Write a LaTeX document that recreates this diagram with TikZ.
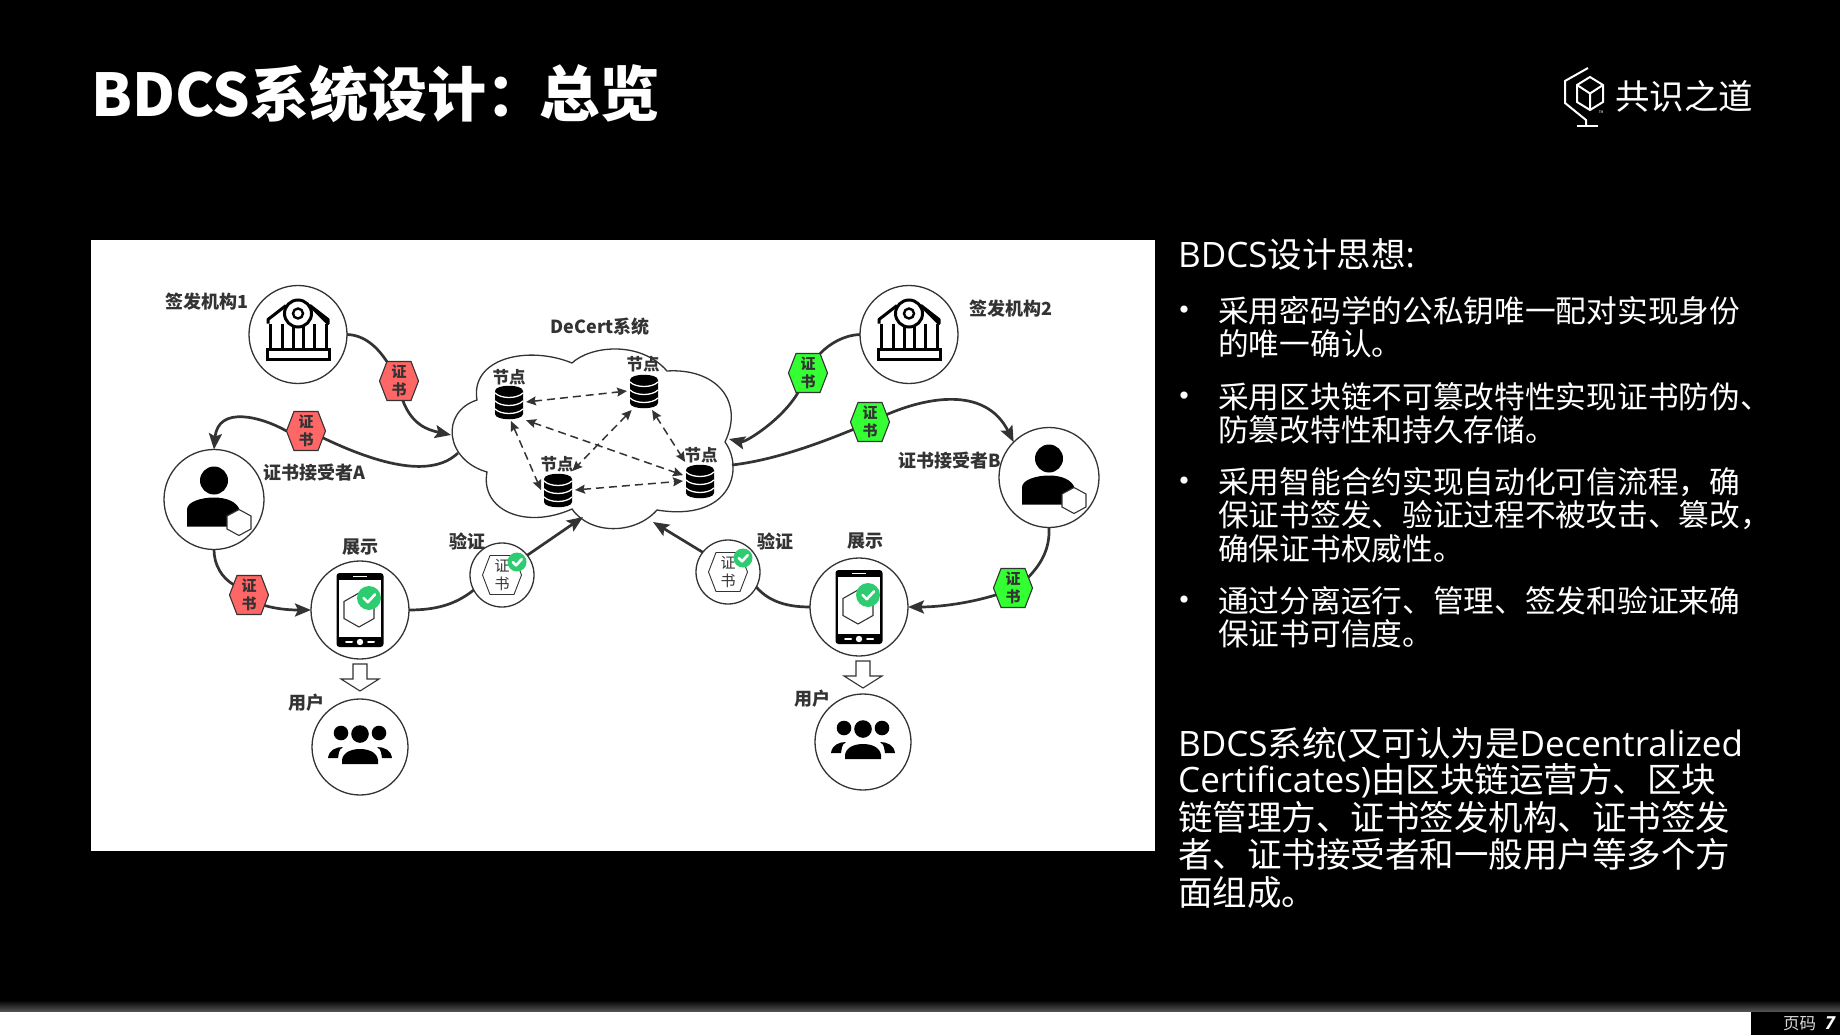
\documentclass[tikz,border=0pt]{standalone}
\usepackage{fontspec}
\setmainfont{Noto Sans CJK SC}
\newfontfamily\latinface{Open Sans}
\usetikzlibrary{arrows.meta,shapes.misc,shapes.geometric,shapes.symbols}
\definecolor{ink}{HTML}{333333}
\definecolor{certred}{HTML}{FF6666}
\definecolor{certgreen}{HTML}{33FF33}
\definecolor{okgreen}{HTML}{2ECC71}
\newcommand{\fs}[1]{\fontsize{#1}{#1}\selectfont}
\newcommand{\lat}[1]{{\latinface\fontsize{35}{35}\selectfont #1}}
\tikzset{
  roundbox/.style={circle,draw=ink,line width=1.3pt,fill=white,inner sep=0pt,outer sep=0pt,minimum size=#1},
  certhex/.style={signal,signal to=east and west,signal pointer angle=138,
     draw=ink,line width=1.1pt,fill=#1,inner sep=0pt,outer sep=0pt,minimum width=39pt,minimum height=39pt,
     align=center,text=ink,font=\fs{15}\bfseries},
  dbspot/.style={rectangle,inner sep=0pt,outer sep=0pt,minimum width=34pt,minimum height=38pt},
  flow/.style={draw=ink,line width=2.7pt},
  flowtip/.style={flow,-{Stealth[length=16pt,width=13pt,inset=3pt]}},
  peer/.style={draw=ink,line width=1.5pt,dash pattern=on 8pt off 5pt,
     {Stealth[length=10pt,width=9pt,inset=1.5pt]}-{Stealth[length=10pt,width=9pt,inset=1.5pt]}},
  caption/.style={text=ink,font=\fs{18}\bfseries,inner sep=0pt},
  bodytext/.style={text=white,anchor=base west,inner sep=0pt,font=\fs{30.7}},
  paratext/.style={text=white,anchor=base west,inner sep=0pt,font=\fs{34.5}},
  bankicon/.pic={
    \draw[black,line width=3pt,line join=round]
      (-30,-11) -- (-30,-15) -- (-12,-29) (12,-29) -- (30,-15) -- (30,-11) -- cycle;
    \draw[black,line width=3pt,fill=white] (-31,15) rectangle (31,25);
    \draw[black,line width=3pt]
      (-28,-11) -- (-28,15) (-16,-11) -- (-16,15) (-5,-11) -- (-5,15)
      (5,-11) -- (5,15) (16,-11) -- (16,15) (28,-11) -- (28,15);
    \draw[black,line width=3pt,fill=white] (0,-21) circle[radius=13.5];
    \draw[black,line width=2.4pt,fill=white] (0,-21) circle[radius=5];
  },
  personicon/.pic={
    \fill[black] (0,-19) circle[radius=14];
    \fill[black] (-27,27) -- (-27,10) .. controls (-27,2) and (-12,-2) .. (0,-2)
       .. controls (12,-2) and (24,2) .. (26,12) -- (26,27) -- cycle;
    \draw[ink,line width=1.1pt,fill=white] (25,10) -- (37,16.5) -- (37,29.5) -- (25,36) -- (13,29.5) -- (13,16.5) -- cycle;
  },
  okbadge/.pic={
    \fill[okgreen] (0,0) circle[radius=#1];
    \draw[white,line width=2.6pt,line cap=round,line join=round]
      (-0.45*#1,0) -- (-0.1*#1,0.35*#1) -- (0.5*#1,-0.3*#1);
  },
  phoneicon/.pic={
    \fill[black,rounded corners=3pt] (-23.5,-37) rectangle (23.5,37);
    \fill[white] (-21,-30) rectangle (21,27);
    \draw[white,line width=1.2pt] (-7,-33.5) -- (7,-33.5);
    \fill[white] (0,32) circle[radius=3.2];
    \draw[white,line width=2pt,line cap=round] (-14,32) -- (-8,32) (8,32) -- (14,32);
    \draw[ink,line width=1.1pt] (-1,-17) -- (14,-8.5) -- (14,8.5) -- (-1,17) -- (-16,8.5) -- (-16,-8.5) -- cycle;
    \pic at (9,-12) {okbadge=12};
  },
  usersicon/.pic={
    \fill[black] (-19,-14) circle[radius=7.3] (19,-14) circle[radius=7.3] (0,-13) circle[radius=8.8];
    \fill[black] (-32,11) .. controls (-31,3) and (-24,0) .. (-17,0) .. controls (-22,3) and (-21,7) .. (-22,11) -- cycle;
    \fill[black] (32,11) .. controls (31,3) and (24,0) .. (17,0) .. controls (22,3) and (21,7) .. (22,11) -- cycle;
    \fill[black] (-18,17) -- (-18,13) .. controls (-17,5) and (-8,2) .. (0,2) .. controls (8,2) and (17,5) .. (18,13) -- (18,17) -- cycle;
  },
  dbicon/.pic={
    \fill[black] (-14,-11) .. controls (-14,-18) and (14,-18) .. (14,-11) -- (14,12)
       .. controls (14,19) and (-14,19) .. (-14,12) -- cycle;
    \draw[white,line width=1.3pt]
      (-14,-9) .. controls (-8,-3) and (8,-3) .. (14,-9)
      (-14,-1) .. controls (-8,5) and (8,5) .. (14,-1)
      (-14,7) .. controls (-8,13) and (8,13) .. (14,7);
  },
  downblock/.pic={
    \draw[ink,line width=1.1pt,fill=white,line join=miter]
      (-7,0) -- (7,0) -- (7,15) -- (19,15) -- (0,27) -- (-19,15) -- (-7,15) -- cycle;
  },
}
\begin{document}
\begin{tikzpicture}[x=1pt,y=-1pt]
\useasboundingbox (0,0) rectangle (1840,1035);
\fill[black] (0,0) rectangle (1840,1035);

% slide frame
\shade[top color=black,bottom color=black!65!white] (0,1000) rectangle (1840,1012);
\fill[white] (0,1012) rectangle (1751,1035);
\fill[black] (1751,1012) rectangle (1840,1035);
\node[text=white!85!black,anchor=base west,inner sep=0pt,font=\fs{16.5}] (pageno) at (1783,1029) {页码};
\node[text=white,anchor=base west,inner sep=0pt,font=\latinface\fs{18}\bfseries\itshape] (pagenum) at (1825,1029) {7};

% title
\node[text=white,anchor=base west,inner sep=0pt,font=\fs{59}\bfseries] (title) at (91,117) {BDCS系统设计：\kern-6pt{\fs{60.5}总览}};

% logo
\begin{scope}[draw=white,line width=2pt,line join=miter]
  \draw (1590,77) -- (1603,85) -- (1603,102) -- (1590,110) -- (1577,102) -- (1577,85) -- cycle;
  \draw (1577,85) -- (1590,93.5) -- (1603,85) (1590,93.5) -- (1590,110);
  \draw (1588,68) -- (1565,81) -- (1565,103) -- (1586,120) -- (1586,126);
  \draw[line width=2.4pt] (1577,126) -- (1598,126);
\end{scope}
\node[text=white,inner sep=0pt,font=\fs{3.5}] (tm) at (1601,112) {TM};
\node[text=white,anchor=base west,inner sep=0pt,font=\fs{34.5}] (logotext) at (1615,110) {共识之道};

% panel
\fill[white] (91,240) rectangle (1155,851);

% cloud outline
\draw[ink,line width=1.3pt,fill=white]
  (572,363) .. controls (590,346) and (640,340) .. (667,371)
  .. controls (715,368) and (745,400) .. (725,442)
  .. controls (745,470) and (730,522) .. (657,510)
  .. controls (635,535) and (590,535) .. (572,509)
  .. controls (525,530) and (480,510) .. (487,472)
  .. controls (445,460) and (440,412) .. (477,400)
  .. controls (470,358) and (528,345) .. (572,363) -- cycle;
\coordinate (cloudW) at (451,435);
\coordinate (cloudSW) at (458,453);
\coordinate (cloudS1) at (583,517);
\coordinate (cloudS2) at (653,522);
\coordinate (cloudE) at (732,465);
\coordinate (cloudE2) at (729,439);

% ledger nodes
\node[dbspot] (db1) at (509,402) {};
\node[dbspot] (db2) at (644,391) {};
\node[dbspot] (db3) at (558,490) {};
\node[dbspot] (db4) at (700,481) {};
\pic at (db1) {dbicon};
\pic at (db2) {dbicon};
\pic at (db3) {dbicon};
\pic at (db4) {dbicon};
\node[caption,font=\fs{16.5}\bfseries] (lb1) at (509,377) {节点};
\node[caption,font=\fs{16.5}\bfseries] (lb2) at (643,364) {节点};
\node[caption,font=\fs{16.5}\bfseries] (lb3) at (557,464) {节点};
\node[caption,font=\fs{16.5}\bfseries] (lb4) at (701,455) {节点};
\draw[peer] (db1.east) -- (db2.west);
\draw[peer] (db1.-84) -- (db3.west);
\draw[peer] (db1.-47) -- (db4.161);
\draw[peer] (db2.237) -- (db3.53);
\draw[peer] (db2.-67) -- (db4.128);
\draw[peer] (db3.east) -- (db4.west);
\node[caption] (cloudlabel) at (600,327) {DeCert系统};

% round actors
\node[roundbox=98pt] (bank1) at (298,334.5) {};
\node[roundbox=98pt] (bank2) at (909,334.5) {};
\node[roundbox=100pt] (holderA) at (214,499.5) {};
\node[roundbox=100pt] (holderB) at (1049,477.5) {};
\node[roundbox=98pt] (phoneA) at (360,610) {};
\node[roundbox=98pt] (phoneB) at (859,607) {};
\node[roundbox=96pt] (usersA) at (360,747) {};
\node[roundbox=96pt] (usersB) at (863,742) {};
\node[roundbox=64pt] (verifyA) at (502,575) {};
\node[roundbox=64pt] (verifyB) at (728,572) {};
\pic at (bank1) {bankicon};
\pic at (bank2) {bankicon};
\pic at (holderA) {personicon};
\pic at (holderB) {personicon};
\pic at (phoneA) {phoneicon};
\pic at (phoneB) {phoneicon};
\pic at (usersA) {usersicon};
\pic at (usersB) {usersicon};

% certificates being verified
\node[certhex=white,line width=0.9pt,font=\fs{15}] (certA) at (502,575) {证\\[3pt]书};
\node[certhex=white,line width=0.9pt,font=\fs{15}] (certB) at (728,572) {证\\[3pt]书};
\pic at (517,562) {okbadge=9.5};
\pic at (743,558) {okbadge=9.5};

% certificates in transit
\node[certhex=certred] (hexR1) at (399,381) {证\\[3pt]书};
\node[certhex=certred] (hexR2) at (306,431) {证\\[3pt]书};
\node[certhex=certred] (hexR3) at (249,595) {证\\[3pt]书};
\node[certhex=certgreen] (hexG1) at (808,373) {证\\[3pt]书};
\node[certhex=certgreen] (hexG2) at (870,422) {证\\[3pt]书};
\node[certhex=certgreen] (hexG3) at (1013,588) {证\\[3pt]书};

% flows on the issuer A side
\draw[flow] (bank1.east) .. controls (365,335) and (378,348) .. (hexR1.122);
\draw[flowtip] (hexR1.-79) .. controls (412,425) and (428,430) .. (cloudW);
\draw[flow] (cloudSW) .. controls (435,475) and (390,470) .. (hexR2.-22);
\draw[flowtip] (hexR2.west) .. controls (262,417) and (218,405) .. (holderA.north);
\draw[flow] (holderA.south) .. controls (214,565) and (222,578) .. (hexR3.146);
\draw[flowtip] (hexR3.-34) .. controls (280,610) and (295,610) .. (phoneA.west);
\draw[flow] (phoneA.east) .. controls (435,610) and (455,605) .. (verifyA.-152);
\draw[flowtip] (verifyA.38) -- (cloudS1);

% flows on the issuer B side
\draw[flow] (bank2.west) .. controls (845,335) and (830,343) .. (hexG1.58);
\draw[flowtip] (hexG1.-117) .. controls (782,420) and (745,443) .. (cloudE2);
\draw[flow] (cloudE) .. controls (775,460) and (820,443) .. (hexG2.-156);
\draw[flowtip] (hexG2.24) .. controls (925,398) and (985,385) .. (holderB.135);
\draw[flow] (holderB.south) .. controls (1050,548) and (1042,563) .. (hexG3.35);
\draw[flowtip] (hexG3.-158) .. controls (970,603) and (940,607) .. (phoneB.east);
\draw[flow] (phoneB.west) .. controls (790,607) and (770,603) .. (verifyB.-28);
\draw[flowtip] (verifyB.142) -- (cloudS2);

% display to users
\coordinate (blockA) at (360,664);
\coordinate (blockB) at (863,661);
\pic at (blockA) {downblock};
\pic at (blockB) {downblock};

% captions
\node[caption] (lIssuer1) at (207,302) {签发机构1};
\node[caption] (lIssuer2) at (1011,308.5) {签发机构2};
\node[caption] (lHolderA) at (314,472.5) {证书接受者A};
\node[caption] (lHolderB) at (950,460.5) {证书接受者B};
\node[caption] (lShowA) at (360,547) {展示};
\node[caption] (lShowB) at (865,541) {展示};
\node[caption] (lCheckA) at (467,541) {验证};
\node[caption] (lCheckB) at (775,541) {验证};
\node[caption] (lUserA) at (306,703) {用户};
\node[caption] (lUserB) at (812,699) {用户};

% design notes
\node[paratext] (notes) at (1178,268) {\lat{BDCS}设计思想\lat{:}};
\foreach \yy/\nn in {314/a,400/b,485/c,604/d}
  \node[text=white,inner sep=0pt,font=\fs{34}] (dot\nn) at (1184,\yy) {•};
\node[bodytext] (n1) at (1218,322.5) {采用密码学的公私钥唯一配对实现身份};
\node[bodytext] (n2) at (1218,355.5) {的唯一确认。};
\node[bodytext] (n3) at (1218,408) {采用区块链不可篡改特性实现证书防伪、};
\node[bodytext] (n4) at (1218,441) {防篡改特性和持久存储。};
\node[bodytext] (n5) at (1218,493) {采用智能合约实现自动化可信流程，确};
\node[bodytext] (n6) at (1218,526) {保证书签发、验证过程不被攻击、篡改，};
\node[bodytext] (n7) at (1218,560) {确保证书权威性。};
\node[bodytext] (n8) at (1218,612) {通过分离运行、管理、签发和验证来确};
\node[bodytext] (n9) at (1218,645) {保证书可信度。};

\node[paratext] (p1) at (1178,756) {\lat{BDCS}系统\lat{(}又可认为是\lat{Decentralized}};
\node[paratext] (p2) at (1178,792) {\lat{Certificates)}由区块链运营方、区块};
\node[paratext] (p3) at (1178,830) {链管理方、证书签发机构、证书签发};
\node[paratext] (p4) at (1178,867) {者、证书接受者和一般用户等多个方};
\node[paratext] (p5) at (1178,905) {面组成。};
\end{tikzpicture}
\end{document}
